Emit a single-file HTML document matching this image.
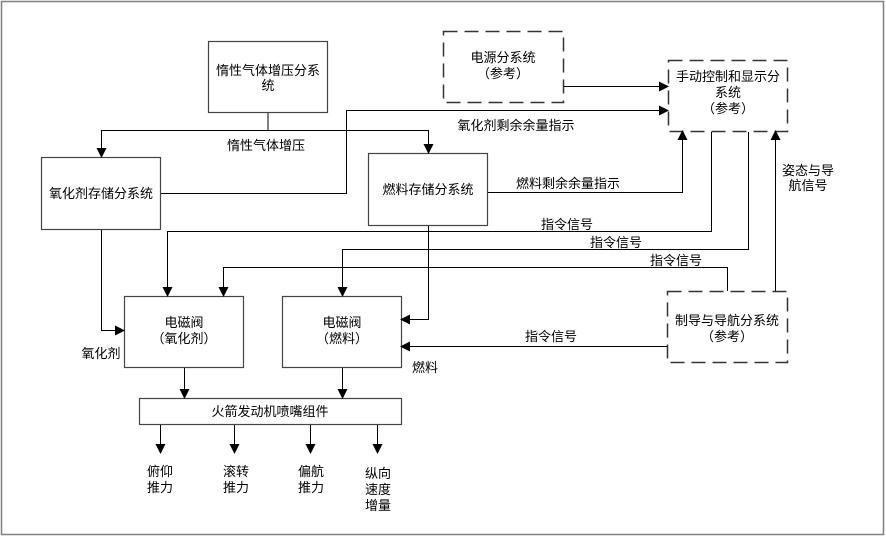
<!DOCTYPE html>
<html><head><meta charset="utf-8">
<style>
html,body{margin:0;padding:0;background:#fff;}
svg text{font-family:"Liberation Sans","Noto Sans CJK SC",sans-serif;font-size:13px;fill:#000;}
</style></head>
<body>
<svg width="886" height="538" viewBox="0 0 886 538" xmlns="http://www.w3.org/2000/svg">
<defs>
<marker id="a" markerWidth="10" markerHeight="10" refX="9" refY="5" orient="auto" markerUnits="userSpaceOnUse">
<path d="M0,0 L10,5 L0,10 z" fill="#000"/>
</marker>
</defs>
<rect x="1.5" y="1.5" width="882" height="533" fill="#fff" stroke="#808080" stroke-width="1.5"/>
<g fill="#fff" stroke="#444" stroke-width="1.2">
<rect x="208.5" y="41.5" width="119" height="71"/>
<rect x="41.5" y="157.5" width="119" height="72"/>
<rect x="368.5" y="153.5" width="119" height="72"/>
<rect x="124.5" y="296.5" width="119" height="71"/>
<rect x="282.5" y="296.5" width="119" height="71"/>
<rect x="139.5" y="398.5" width="262" height="26"/>
</g>
<g fill="#fff" stroke="#333" stroke-width="1.5" stroke-dasharray="14,7">
<rect x="443.5" y="31.5" width="120" height="71"/>
<rect x="668.5" y="60.5" width="119" height="71"/>
<rect x="667.5" y="291.5" width="120" height="71"/>
</g>
<g fill="none" stroke="#000" stroke-width="1">
<path d="M268,113 V130.5 H101.5 V157" marker-end="url(#a)"/>
<path d="M268,130.5 H428.5 V153" marker-end="url(#a)"/>
<path d="M161,193.5 H346.5 V110.5 H668" marker-end="url(#a)"/>
<path d="M564,86.5 H668" marker-end="url(#a)"/>
<path d="M488,192.5 H682.5 V131" marker-end="url(#a)"/>
<path d="M711.5,132 V231.5 H167.5 V296" marker-end="url(#a)"/>
<path d="M748.5,132 V249.5 H342.5 V296" marker-end="url(#a)"/>
<path d="M727.5,291 V267.5 H223.5 V296" marker-end="url(#a)"/>
<path d="M775.5,291 V131" marker-end="url(#a)"/>
<path d="M428.5,226 V319.5 H401" marker-end="url(#a)"/>
<path d="M101.5,230 V330.5 H124" marker-end="url(#a)"/>
<path d="M667,346.5 H401" marker-end="url(#a)"/>
<path d="M184.5,368 V398" marker-end="url(#a)"/>
<path d="M342.5,368 V398" marker-end="url(#a)"/>
<path d="M160.5,425 V453" marker-end="url(#a)"/>
<path d="M234.5,425 V453" marker-end="url(#a)"/>
<path d="M310.5,425 V453" marker-end="url(#a)"/>
<path d="M377.5,425 V453" marker-end="url(#a)"/>
</g>
<g text-anchor="middle">
<text x="268" y="75">惰性气体增压分系</text>
<text x="268" y="90">统</text>
<text x="101" y="198">氧化剂存储分系统</text>
<text x="428" y="194">燃料存储分系统</text>
<text x="503" y="62">电源分系统</text>
<text x="503" y="78">（参考）</text>
<text x="728" y="81">手动控制和显示分</text>
<text x="728" y="97">系统</text>
<text x="728" y="113">（参考）</text>
<text x="727" y="325">制导与导航分系统</text>
<text x="727" y="341">（参考）</text>
<text x="184" y="327">电磁阀</text>
<text x="184" y="343">（氧化剂）</text>
<text x="342" y="327">电磁阀</text>
<text x="342" y="343">（燃料）</text>
<text x="270" y="416">火箭发动机喷嘴组件</text>
<text x="266" y="150">惰性气体增压</text>
<text x="516" y="130">氧化剂剩余余量指示</text>
<text x="568" y="188">燃料剩余余量指示</text>
<text x="567" y="229">指令信号</text>
<text x="616" y="247">指令信号</text>
<text x="676" y="265">指令信号</text>
<text x="551" y="341">指令信号</text>
<text x="808" y="175">姿态与导</text>
<text x="808" y="190">航信号</text>
<text x="101" y="358">氧化剂</text>
<text x="425" y="372">燃料</text>
<text x="160" y="476">俯仰</text>
<text x="160" y="492">推力</text>
<text x="236" y="476">滚转</text>
<text x="236" y="492">推力</text>
<text x="311" y="476">偏航</text>
<text x="311" y="492">推力</text>
<text x="378" y="478">纵向</text>
<text x="378" y="494">速度</text>
<text x="378" y="510">增量</text>
</g>
</svg>
</body></html>
